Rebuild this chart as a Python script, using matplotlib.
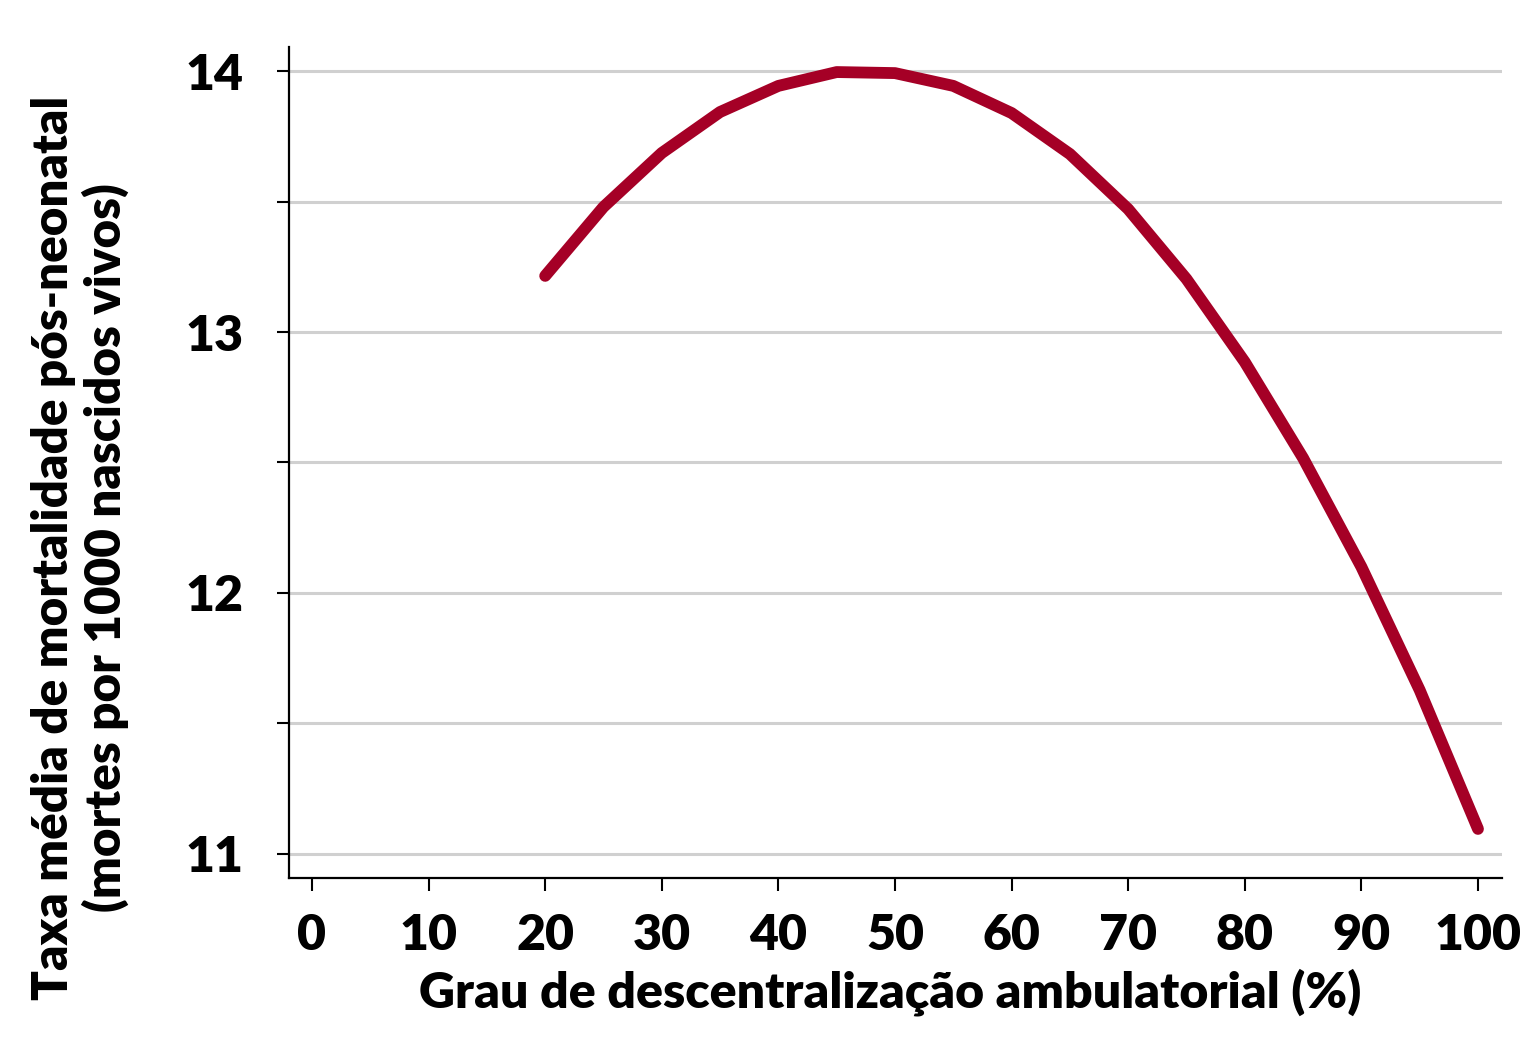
import matplotlib
matplotlib.use("Agg")
import matplotlib.pyplot as plt
from matplotlib.ticker import MultipleLocator

plt.rcParams["font.family"] = ["Lato", "DejaVu Sans"]
plt.rcParams["font.weight"] = "heavy"

# dados
descentralizacao = [20, 25, 30, 35, 40, 45, 50, 55, 60, 65, 70, 75, 80, 85, 90, 95, 100]
mortalidade = [13.215, 13.479, 13.686, 13.843, 13.943, 13.996, 13.992, 13.943, 13.839,
               13.682, 13.471, 13.203, 12.885, 12.517, 12.100, 11.628, 11.096]
xticks = [0, 10, 20, 30, 40, 50, 60, 70, 80, 90, 100]
yticks = [11, 12, 13, 14]

fig = plt.figure(figsize=(15.29, 10.64), dpi=100)
ax = fig.add_axes([289 / 1529, 1 - 878 / 1064, (1502 - 289) / 1529, (878 - 47) / 1064])

for y in [11, 11.5, 12, 12.5, 13, 13.5, 14]:
    ax.axhline(y, color="#d0d0d0", lw=2.2, zorder=1)

ax.plot(descentralizacao, mortalidade, color="#a50026", lw=8.5,
        solid_capstyle="round", solid_joinstyle="round", zorder=3)

ax.set_xlim(-1.97, 102.06)
ax.set_ylim(10.908, 14.092)
ax.set_xticks(xticks)
ax.set_yticks(yticks)
ax.yaxis.set_minor_locator(MultipleLocator(0.5))

for s in ["top", "right"]:
    ax.spines[s].set_visible(False)
for s in ["left", "bottom"]:
    ax.spines[s].set_linewidth(1.6)

ax.tick_params(axis="both", which="both", direction="out", width=1.5, length=9, color="black")
ax.tick_params(axis="x", labelsize=36, pad=16)
ax.tick_params(axis="y", labelsize=36, pad=24)

fig.text(890 / 1529, 1 - 992 / 1064, "Grau de descentralização ambulatorial (%)",
         ha="center", va="center", fontsize=36, fontweight="heavy")
fig.text(80 / 1529, 1 - 548 / 1064,
         "Taxa média de mortalidade pós-neonatal\n(mortes por 1000 nascidos vivos)",
         ha="center", va="center", rotation=90, fontsize=35.5, fontweight="heavy",
         linespacing=1.12, multialignment="center")

fig.savefig("out.png", dpi=100)
